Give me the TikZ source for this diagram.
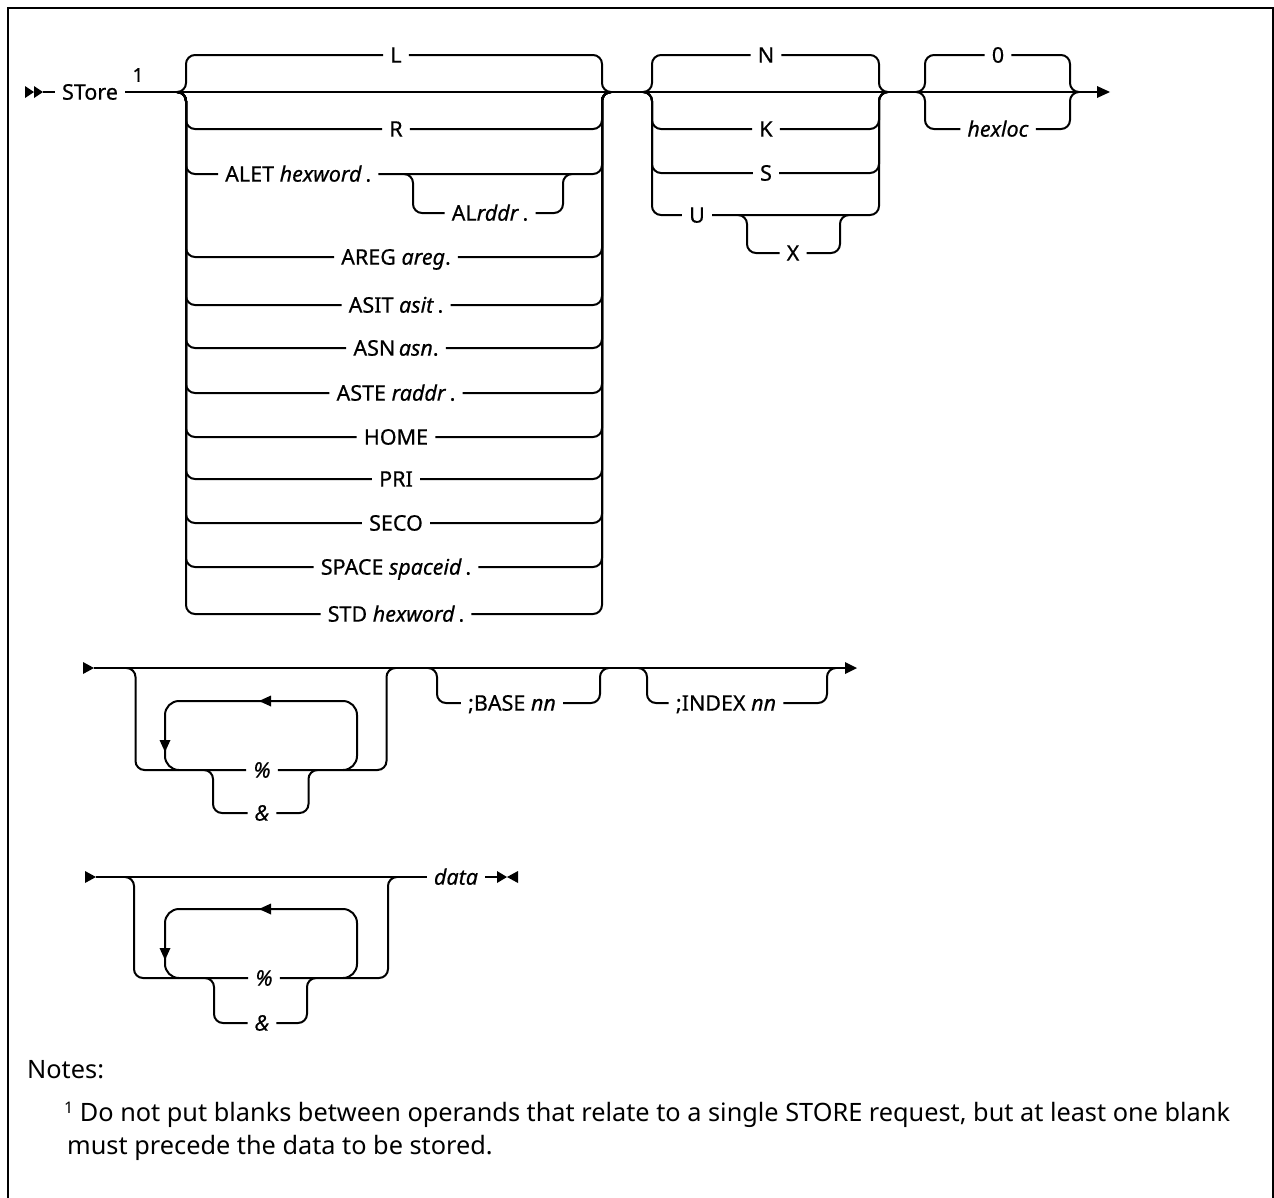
\documentclass[tikz,border=0pt]{standalone}
\usepackage{fontspec}
\setmainfont{Noto Sans}
\newfontfamily\diafont{Noto Sans}[FakeBold=0.5]
\begin{document}
\begin{tikzpicture}[x=1pt,y=-1pt,
  ln/.style={line width=2pt},
  br/.style={line width=2pt, rounded corners=9pt},
  lp/.style={line width=2pt, rounded corners=14pt},
  lbl/.style={inner xsep=7pt, inner ysep=4pt, text height=15.3pt, text depth=0pt, font=\diafont\fontsize{21.5}{24}\selectfont},
  notefont/.style={inner sep=0pt, anchor=base west, font=\fontsize{25.3}{30}\selectfont}]
\useasboundingbox (0,0) rectangle (1274,1197);
\draw[line width=2pt] (8,8) rectangle (1272.5,1230);

% ---------- row 1 ----------
\fill (25,86) -- (34,92) -- (25,98) -- cycle;
\fill (34,86) -- (43,92) -- (34,98) -- cycle;
\coordinate (s0) at (43,92);
\node[lbl] (store) at (90,92) {STore};
\node[inner sep=0pt, font=\diafont\fontsize{19}{20}\selectfont] (fn) at (138,75) {1};
\draw[ln] (s0) -- (store.west);
\coordinate (e1) at (1098,92);
\draw[ln] (store.east) -- (e1);
\fill (1097,86) -- (1110,92) -- (1097,98) -- cycle;

% big choice group
\foreach \nm/\yy/\txt in {L/55/L, R/129/R, AREG/257/{AREG \textit{areg}.}, ASIT/305/{ASIT \textit{asit}\,.},
  ASN/348/{ASN\,\textit{asn}.}, ASTE/393/{ASTE \textit{raddr}\,.}, HOME/437/HOME, PRI/479/PRI, SECO/523/SECO,
  SPACE/567/{SPACE \textit{spaceid}\,.}, STD/614/{STD \textit{hexword}\,.}}{
  \node[lbl] (a\nm) at (396,\yy) {\txt};
  \draw[br] (177,92) -- (186,92) -- (186,\yy) -- (a\nm.west);
  \draw[br] (a\nm.east) -- (602,\yy) -- (602,92) -- (611,92);
}
\node[lbl, anchor=west] (aALET) at (218,174) {ALET \textit{hexword}\,.};
\draw[br] (177,92) -- (186,92) -- (186,174) -- (aALET.west);
\draw[br] (aALET.east) -- (602,174) -- (602,92) -- (611,92);
\node[lbl] (aAL) at (490,213) {AL\textit{rddr}\,.};
\draw[br] (404,174) -- (413,174) -- (413,213) -- (aAL.west);
\draw[br] (aAL.east) -- (563,213) -- (563,174) -- (572,174);

% N K S U group
\foreach \nm/\yy in {N/55, K/129, S/173}{
  \node[lbl] (b\nm) at (766,\yy) {\nm};
  \draw[br] (643,92) -- (652,92) -- (652,\yy) -- (b\nm.west);
  \draw[br] (b\nm.east) -- (879,\yy) -- (879,92) -- (888,92);
}
\node[lbl] (bU) at (697,215) {U};
\draw[br] (643,92) -- (652,92) -- (652,215) -- (bU.west);
\draw[br] (bU.east) -- (879,215) -- (879,92) -- (888,92);
\node[lbl] (bX) at (793,253) {X};
\draw[br] (738,215) -- (747,215) -- (747,253) -- (bX.west);
\draw[br] (bX.east) -- (840,253) -- (840,215) -- (849,215);

% 0 / hexloc group
\node[lbl] (c0) at (998,55) {0};
\draw[br] (916,92) -- (925,92) -- (925,55) -- (c0.west);
\draw[br] (c0.east) -- (1070,55) -- (1070,92) -- (1079,92);
\node[lbl] (chex) at (998,129) {\textit{hexloc}};
\draw[br] (916,92) -- (925,92) -- (925,129) -- (chex.west);
\draw[br] (chex.east) -- (1070,129) -- (1070,92) -- (1079,92);

% ---------- row 2 ----------
\fill (83,662) -- (94,668) -- (83,674) -- cycle;
\coordinate (r2s) at (94,668);
\coordinate (r2e) at (845,668);
\draw[ln] (r2s) -- (r2e);
\fill (845,662) -- (857,668) -- (845,674) -- cycle;
\node[lbl] (pct2) at (262,770) {\textit{\%}};
\draw[br] (126.5,668) -- (135.5,668) -- (135.5,770) -- (pct2.west);
\draw[br] (pct2.east) -- (386.5,770) -- (386.5,668) -- (395.5,668);
\node[lbl] (amp2) at (262,813) {\textit{\&}};
\draw[br] (204,770) -- (213,770) -- (213,813) -- (amp2.west);
\draw[br] (amp2.east) -- (308.5,813) -- (308.5,770) -- (317.5,770);
\draw[lp] (343,770) -- (357,770) -- (357,701) -- (165,701) -- (165,770) -- (179,770);
\fill (259,701) -- (271,695.5) -- (271,706.5) -- cycle;
\fill (165,752) -- (159.5,740) -- (170.5,740) -- cycle;
\node[lbl] (base) at (512,703) {;BASE \textit{nn}};
\draw[br] (428,668) -- (437,668) -- (437,703) -- (base.west);
\draw[br] (base.east) -- (600,703) -- (600,668) -- (609,668);
\node[lbl] (idx) at (726,703) {;INDEX \textit{nn}};
\draw[br] (638,668) -- (647,668) -- (647,703) -- (idx.west);
\draw[br] (idx.east) -- (827,703) -- (827,668) -- (836,668);

% ---------- row 3 ----------
\fill (85,871) -- (96,877) -- (85,883) -- cycle;
\coordinate (r3s) at (96,877);
\node[lbl] (data) at (456,877) {\textit{data}};
\draw[ln] (r3s) -- (data.west);
\coordinate (r3e) at (497,877);
\draw[ln] (data.east) -- (r3e);
\fill (497,871) -- (507,877) -- (497,883) -- cycle;
\fill (518,871) -- (507,877) -- (518,883) -- cycle;
\node[lbl] (pct3) at (264,978) {\textit{\%}};
\draw[br] (125,877) -- (134,877) -- (134,978) -- (pct3.west);
\draw[br] (pct3.east) -- (388,978) -- (388,877) -- (397,877);
\node[lbl] (amp3) at (262,1023) {\textit{\&}};
\draw[br] (205,978) -- (214,978) -- (214,1023) -- (amp3.west);
\draw[br] (amp3.east) -- (307,1023) -- (307,978) -- (316,978);
\draw[lp] (343,978) -- (357,978) -- (357,909) -- (165,909) -- (165,978) -- (179,978);
\fill (259,909) -- (271,903.5) -- (271,914.5) -- cycle;
\fill (165,960) -- (159.5,948) -- (170.5,948) -- cycle;

% ---------- notes ----------
\node[notefont] (notes) at (27,1078) {Notes:};
\node[notefont] (note1) at (64,1121) {\raisebox{8pt}{\fontsize{16}{16}\selectfont 1} Do not put blanks between operands that relate to a single STORE request, but at least one blank};
\node[notefont] (note2) at (67,1154) {must precede the data to be stored.};
\end{tikzpicture}
\end{document}
